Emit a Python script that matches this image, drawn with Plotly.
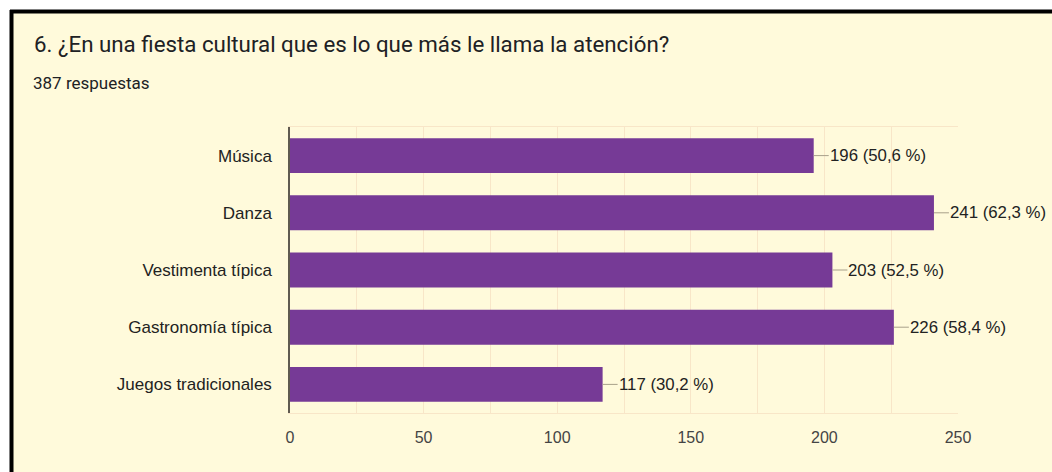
import plotly.graph_objects as go

categories = ["Música", "Danza", "Vestimenta típica", "Gastronomía típica", "Juegos tradicionales"]
values = [196, 241, 203, 226, 117]
percents = ["50,6", "62,3", "52,5", "58,4", "30,2"]
tick_values = [0, 50, 100, 150, 200, 250]

W, H = 1052, 472
L, R, T, B = 290, 94, 127, 59
PW, PH = W - L - R, H - T - B

def px_x(x):
    return (x - L) / PW

def px_y(y):
    return 1 - (y - T) / PH

BG = "#FFFADB"
GRID = "#F8E6C8"
BAR = "#763A96"

fig = go.Figure()
fig.add_trace(go.Bar(
    x=values, y=categories, orientation="h",
    marker=dict(color=BAR, line=dict(width=0)),
    hoverinfo="skip",
))

annotations = []
for c, v, p in zip(categories, values, percents):
    annotations.append(dict(
        x=v, y=c, xref="x", yref="y",
        text=f"{v} ({p} %)", showarrow=True, arrowhead=0, arrowwidth=1,
        arrowcolor="#A8A08A", ax=15, ay=0, xanchor="left", standoff=0,
        font=dict(family="Arial, Liberation Sans", size=16.8, color="#222222"),
        borderpad=0,
    ))

annotations.append(dict(
    x=px_x(32), y=px_y(44), xref="paper", yref="paper", xanchor="left", yanchor="middle",
    text="6. ¿En una fiesta cultural que es lo que más le llama la atención?",
    showarrow=False, font=dict(family="Roboto, Open Sans", size=22.3, color="#202124"),
))
annotations.append(dict(
    x=px_x(31), y=px_y(83), xref="paper", yref="paper", xanchor="left", yanchor="middle",
    text="387 respuestas",
    showarrow=False, font=dict(family="Roboto, Arial", size=17, color="#202124"),
))

shapes = [
    dict(type="rect", xref="paper", yref="paper", x0=px_x(10), x1=px_x(1060), y0=px_y(10), y1=px_y(480),
         fillcolor=BG, line=dict(width=0), layer="below"),
    dict(type="line", xref="paper", yref="paper", x0=px_x(11.5), x1=px_x(11.5), y0=px_y(10), y1=px_y(480),
         line=dict(color="#000000", width=4), layer="above"),
    dict(type="line", xref="paper", yref="paper", x0=px_x(10), x1=px_x(1060), y0=px_y(11.5), y1=px_y(11.5),
         line=dict(color="#000000", width=4), layer="above"),
]

fig.update_layout(
    width=W, height=H,
    margin=dict(l=L, r=R, t=T, b=B, autoexpand=False),
    paper_bgcolor="#FFFFFF", plot_bgcolor=BG,
    showlegend=False, bargap=0.39,
    annotations=annotations, shapes=shapes,
    font=dict(family="Arial, Liberation Sans", color="#444444"),
    xaxis=dict(
        range=[0, 250], tickvals=tick_values, showgrid=True, gridcolor=GRID, gridwidth=1,
        minor=dict(dtick=25, showgrid=True, gridcolor=GRID, gridwidth=1),
        zeroline=False, showline=True, linecolor=GRID, mirror=True,
        tickfont=dict(family="Arial, Liberation Sans", size=16, color="#444444"),
        ticks="", ticklabelstandoff=10, fixedrange=True,
    ),
    yaxis=dict(
        categoryorder="array", categoryarray=categories, autorange="reversed",
        showgrid=False, zeroline=False, showline=True, linecolor="#5F5A50", linewidth=1.5,
        tickfont=dict(family="Arial, Liberation Sans", size=17, color="#222222"),
        ticks="", ticklabelstandoff=13, fixedrange=True,
    ),
)

fig.write_html(
    "out.html",
    config={"displayModeBar": False},
    post_script="document.body.style.margin='0';document.body.style.overflow='hidden';",
)
